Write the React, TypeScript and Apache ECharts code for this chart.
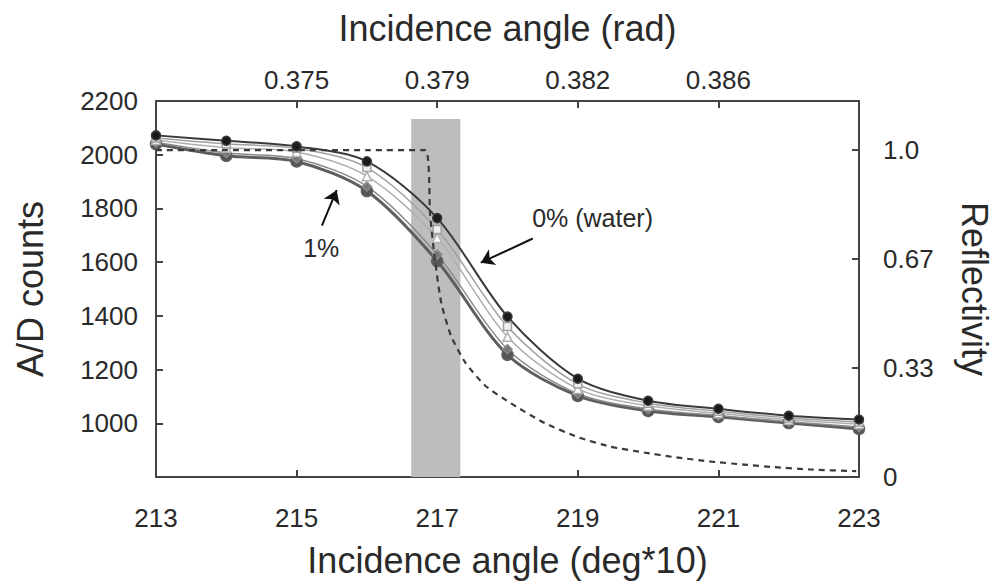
import React, { useEffect, useRef } from "react";
import * as echarts from "echarts";

// Incidence angle (deg*10) at each measurement
const angles = [213, 214, 215, 216, 217, 218, 219, 220, 221, 222, 223];
// A/D counts per concentration
const water0 = [2072, 2052, 2031, 1975, 1764, 1397, 1166, 1084, 1054, 1028, 1014];
const conc025 = [2062, 2040, 2024, 1952, 1722, 1360, 1146, 1075, 1045, 1020, 1005];
const conc05 = [2055, 2026, 2010, 1920, 1690, 1322, 1128, 1065, 1037, 1013, 997];
const conc075 = [2046, 2006, 1986, 1882, 1628, 1276, 1110, 1053, 1029, 1006, 986];
const conc1 = [2040, 1996, 1975, 1865, 1604, 1255, 1102, 1046, 1024, 1001, 979];

// Reflectivity curve (right axis)
const reflAngles = [213, 214, 215, 216, 216.83, 216.9, 216.97, 217.06, 217.2, 217.4, 217.68, 218.05, 218.53, 219.0, 219.46, 219.94, 220.4, 220.9, 221.36, 221.8, 222.3, 222.96];
const reflValues = [1.0, 1.0, 1.0, 1.0, 1.0, 0.8, 0.66, 0.53, 0.43, 0.35, 0.28, 0.225, 0.165, 0.122, 0.093, 0.075, 0.06, 0.047, 0.038, 0.03, 0.023, 0.018];

// Axis ticks
const degTicks = [213, 215, 217, 219, 221, 223];
const radTickPos = [215, 217, 219, 221];
const radTickLabels = ["0.375", "0.379", "0.382", "0.386"];
const reflTickPos = [0, 1 / 3, 2 / 3, 1];
const reflTickLabels = ["0", "0.33", "0.67", "1.0"];

// Shaded band (angle range, upper count)
const bandRange = [216.63, 217.33];
const bandTop = 2133;

const FONT = "'Liberation Sans', Arial, sans-serif";
const TXT = "#2a2a2a";

const pairs = (xs: number[], ys: number[]) => xs.map((x, i) => [x, ys[i]]);

export default function App() {
  const ref = useRef<HTMLDivElement>(null);
  useEffect(() => {
    if (!ref.current) return;
    const chart = echarts.init(ref.current, undefined, { renderer: "svg" });

    const axisLine = { show: true, lineStyle: { color: "#444", width: 2 } };
    const axisTick = { show: true, inside: true, length: 7, lineStyle: { color: "#444", width: 2 } };

    const lineSeries = (name: string, data: number[], color: string, width: number, symbol: string, symbolSize: number, fill: string) => ({
      name,
      type: "line",
      xAxisIndex: 0,
      yAxisIndex: 0,
      data: pairs(angles, data),
      smooth: 0.3,
      symbol,
      symbolSize,
      showSymbol: true,
      z: 3,
      lineStyle: { color, width },
      itemStyle: { color: fill, borderColor: color, borderWidth: 1.5 },
      emphasis: { disabled: true },
    });

    chart.setOption({
      animation: false,
      backgroundColor: "#ffffff",
      grid: { left: 156, right: 137, top: 101, bottom: 105 },
      xAxis: [
        {
          type: "value",
          position: "bottom",
          min: 213,
          max: 223,
          interval: 2,
          axisLine,
          axisTick,
          splitLine: { show: false },
          axisLabel: {
            fontSize: 26,
            fontFamily: FONT,
            color: TXT,
            margin: 28,
            formatter: (v: number) => (degTicks.includes(v) ? String(v) : ""),
          },
          name: "Incidence angle (deg*10)",
          nameLocation: "middle",
          nameGap: 65,
          nameTextStyle: { fontSize: 36, fontFamily: FONT, color: TXT },
        },
        {
          type: "value",
          position: "top",
          min: 213,
          max: 223,
          interval: 2,
          axisLine,
          axisTick,
          splitLine: { show: false },
          axisLabel: {
            fontSize: 26,
            fontFamily: FONT,
            color: TXT,
            margin: 8,
            formatter: (v: number) => {
              const i = radTickPos.indexOf(v);
              return i >= 0 ? radTickLabels[i] : "";
            },
          },
          name: "Incidence angle (rad)",
          nameLocation: "middle",
          nameGap: 55,
          nameTextStyle: { fontSize: 36, fontFamily: FONT, color: TXT },
        },
      ],
      yAxis: [
        {
          type: "value",
          position: "left",
          min: 800,
          max: 2200,
          interval: 200,
          axisLine,
          axisTick,
          splitLine: { show: false },
          axisLabel: {
            fontSize: 26,
            fontFamily: FONT,
            color: TXT,
            margin: 18,
            formatter: (v: number) => (v === 800 ? "" : String(v)),
          },
          name: "A/D counts",
          nameLocation: "middle",
          nameGap: 108,
          nameTextStyle: { fontSize: 36, fontFamily: FONT, color: TXT },
        },
        {
          type: "value",
          position: "right",
          min: 0,
          max: 1.15,
          interval: 1 / 3,
          axisLine,
          axisTick,
          splitLine: { show: false },
          axisLabel: {
            fontSize: 26,
            fontFamily: FONT,
            color: TXT,
            margin: 24,
            formatter: (v: number) => {
              const i = reflTickPos.findIndex((p) => Math.abs(p - v) < 0.01);
              return i >= 0 ? reflTickLabels[i] : "";
            },
          },
          name: "Reflectivity",
          nameLocation: "middle",
          nameRotate: -90,
          nameGap: 97,
          nameTextStyle: { fontSize: 36, fontFamily: FONT, color: TXT },
        },
      ],
      series: [
        {
          name: "band",
          type: "line",
          xAxisIndex: 0,
          yAxisIndex: 0,
          data: [],
          z: 1,
          markArea: {
            silent: true,
            itemStyle: { color: "#bdbdbd" },
            data: [[{ coord: [bandRange[0], 800] }, { coord: [bandRange[1], bandTop] }]],
          },
        },
        lineSeries("1%", conc1, "#5e5e5e", 3, "circle", 11, "#555555"),
        lineSeries("0.75%", conc075, "#8a8a8a", 1.5, "diamond", 9, "#777777"),
        lineSeries("0.5%", conc05, "#b0b0b0", 1.5, "triangle", 9, "#ffffff"),
        lineSeries("0.25%", conc025, "#a0a0a0", 1.5, "rect", 8, "#f0f0f0"),
        lineSeries("0% (water)", water0, "#3a3a3a", 2, "circle", 9, "#1a1a1a"),
        {
          name: "Reflectivity",
          type: "line",
          xAxisIndex: 0,
          yAxisIndex: 1,
          data: pairs(reflAngles, reflValues),
          smooth: 0.2,
          showSymbol: false,
          symbol: "none",
          z: 4,
          lineStyle: { color: "#3a3a3a", width: 2.2, type: [6, 5] },
          emphasis: { disabled: true },
        },
        {
          name: "annotations",
          type: "line",
          xAxisIndex: 0,
          yAxisIndex: 0,
          data: [],
          z: 5,
          markLine: {
            silent: true,
            symbol: ["none", "arrow"],
            symbolSize: 13,
            label: { show: false },
            lineStyle: { color: "#111", width: 2, type: "solid" },
            data: [
              [{ coord: [215.36, 1736] }, { coord: [215.57, 1868] }],
              [{ coord: [218.36, 1688] }, { coord: [217.62, 1598] }],
            ],
          },
          markPoint: {
            silent: true,
            symbol: "circle",
            symbolSize: 0,
            label: { show: true, position: "inside", fontSize: 25, fontFamily: FONT, color: TXT },
            data: [
              { coord: [215.35, 1654], value: "1%", label: { formatter: "1%" } },
              { coord: [219.21, 1763], value: "0% (water)", label: { formatter: "0% (water)" } },
            ],
          },
        },
      ],
    });
    return () => chart.dispose();
  }, []);
  return <div ref={ref} style={{ position: "absolute", left: 0, top: 0, width: 1000, height: 583 }} />;
}
